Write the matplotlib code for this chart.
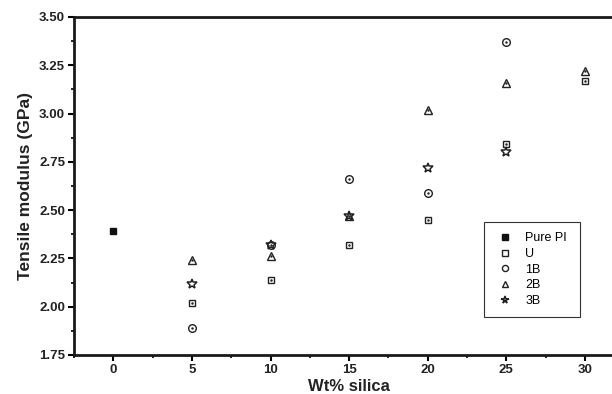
import numpy as np
import matplotlib
matplotlib.use('Agg')
import matplotlib.pyplot as plt
from matplotlib.ticker import MultipleLocator

plt.rcParams['font.family'] = ['Liberation Sans', 'DejaVu Sans']

# data
x_pure = [0]
y_pure = [2.39]

x_u = [5, 10, 15, 20, 25, 30]
y_u = [2.02, 2.14, 2.32, 2.45, 2.84, 3.17]

x_1b = [5, 10, 15, 20, 25]
y_1b = [1.89, 2.32, 2.66, 2.59, 3.37]

x_2b = [5, 10, 15, 20, 25, 30]
y_2b = [2.24, 2.26, 2.47, 3.02, 3.16, 3.22]

x_3b = [5, 10, 15, 20, 25]
y_3b = [2.12, 2.32, 2.47, 2.72, 2.80]

fig = plt.figure(figsize=(6.12, 3.94), dpi=100)
# the original is cropped on the right, so the axes run past the figure edge
ax = fig.add_axes([0.121, 0.099, 0.899, 0.858])

ms = 5
ec = '#222222'
ax.plot(x_pure, y_pure, 's', color='#111111', ms=ms, label='Pure PI')
ax.plot(x_u, y_u, 's', mfc='none', mec=ec, mew=1.0, ms=ms, label='U')
ax.plot(x_1b, y_1b, 'o', mfc='none', mec=ec, mew=1.0, ms=ms+0.5, label='1B')
ax.plot(x_2b, y_2b, '^', mfc='none', mec=ec, mew=1.0, ms=ms+1, label='2B')
ax.plot(x_3b, y_3b, '*', mfc='none', mec=ec, mew=1.1, ms=ms+2, label='3B')
# small centre dots, as in the original markers
for xs, ys in [(x_u, y_u), (x_1b, y_1b), (x_2b, y_2b)]:
    ax.plot(xs, ys, '.', color=ec, ms=1.5)

ax.set_xlim(-2.5, 32.5)
ax.set_ylim(1.75, 3.5)
ax.set_xticks([0, 5, 10, 15, 20, 25, 30])
ax.set_yticks([1.75, 2.0, 2.25, 2.5, 2.75, 3.0, 3.25, 3.5])
ax.set_yticklabels(['%.2f' % v for v in ax.get_yticks()])
ax.xaxis.set_minor_locator(MultipleLocator(2.5))
ax.yaxis.set_minor_locator(MultipleLocator(0.125))
ax.tick_params(which='major', direction='out', length=4, width=1.5, labelsize=9.5, pad=2.5)
ax.tick_params(which='minor', direction='out', length=2, width=1.2)
for lab in ax.get_xticklabels() + ax.get_yticklabels():
    lab.set_fontweight('bold')
    lab.set_color('#222222')

for s in ['left', 'bottom', 'top']:
    ax.spines[s].set_linewidth(2)
    ax.spines[s].set_color('#1a1a1a')
ax.spines['right'].set_visible(False)

ax.set_xlabel('Wt% silica', fontsize=12, fontweight='bold', color='#222222', labelpad=2)
ax.set_ylabel('Tensile modulus (GPa)', fontsize=12.5, fontweight='bold', color='#222222', labelpad=4)

leg = ax.legend(loc='lower left', bbox_to_anchor=(0.745, 0.112, 0.175, 0.275), mode='expand',
                borderaxespad=0, fancybox=False, edgecolor='#333333', fontsize=9,
                handlelength=1.8, handletextpad=0.7, borderpad=0.8, labelspacing=0.3,
                framealpha=1, markerscale=0.8)
leg.get_frame().set_linewidth(0.8)

fig.savefig('out.png', dpi=100)
